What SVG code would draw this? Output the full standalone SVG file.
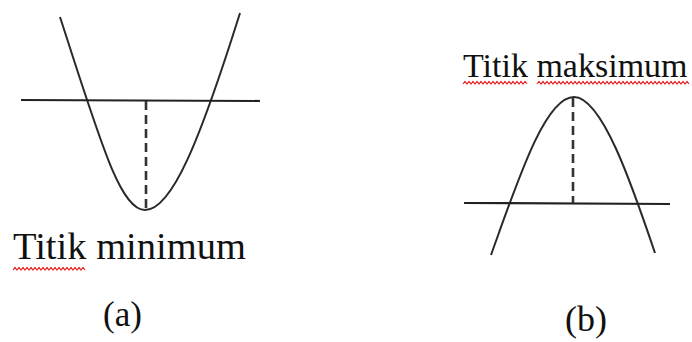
<svg xmlns="http://www.w3.org/2000/svg" width="692" height="342" viewBox="0 0 692 342">
<style>
.curve{fill:none;stroke:#2a2a2a;stroke-width:2}
.axis{fill:none;stroke:#222;stroke-width:2.2}
.dash{fill:none;stroke:#333;stroke-width:2.6;stroke-dasharray:9 5}
.lbl{font-family:'Liberation Serif','Tinos','Times New Roman','DejaVu Serif',serif;fill:#111}
.wave{fill:none;stroke:#e52020;stroke-width:1.2}
</style>
<rect width="692" height="342" fill="#fff"/>
<g id="graph-a">
<path class="curve" d="M60,17 C100,140 120,210 145,210 C172,210 200,140 240,13"/>
<line class="axis" x1="21" y1="100" x2="260" y2="101"/>
<line class="dash" x1="146" y1="101" x2="146" y2="210"/>
<text class="lbl" x="13" y="259" font-size="38.5">Titik minimum</text>
<path class="wave" d="M13,270 l2,-2.5 l2,2.5 l2,-2.5 l2,2.5 l2,-2.5 l2,2.5 l2,-2.5 l2,2.5 l2,-2.5 l2,2.5 l2,-2.5 l2,2.5 l2,-2.5 l2,2.5 l2,-2.5 l2,2.5 l2,-2.5 l2,2.5 l2,-2.5 l2,2.5 l2,-2.5 l2,2.5 l2,-2.5 l2,2.5 l2,-2.5 l2,2.5 l2,-2.5 l2,2.5 l2,-2.5 l2,2.5 l2,-2.5 l2,2.5 l2,-2.5 l2,2.5 l2,-2.5 l2,2.5"/>
<text class="lbl" x="103" y="326" font-size="35">(a)</text>
</g>
<g id="graph-b">
<path class="curve" d="M491,255 C518,180 545,97 574,97 C602,97 632,185 655,253"/>
<line class="axis" x1="464" y1="203" x2="670" y2="204"/>
<line class="dash" x1="573" y1="98" x2="573" y2="203"/>
<text class="lbl" x="463" y="77" font-size="34">Titik maksimum</text>
<path class="wave" d="M463,84 l2,-2.5 l2,2.5 l2,-2.5 l2,2.5 l2,-2.5 l2,2.5 l2,-2.5 l2,2.5 l2,-2.5 l2,2.5 l2,-2.5 l2,2.5 l2,-2.5 l2,2.5 l2,-2.5 l2,2.5 l2,-2.5 l2,2.5 l2,-2.5 l2,2.5 l2,-2.5 l2,2.5 l2,-2.5 l2,2.5 l2,-2.5 l2,2.5 l2,-2.5 l2,2.5 l2,-2.5 l2,2.5 l2,-2.5 l2,2.5"/>
<path class="wave" d="M537,84 l2,-2.5 l2,2.5 l2,-2.5 l2,2.5 l2,-2.5 l2,2.5 l2,-2.5 l2,2.5 l2,-2.5 l2,2.5 l2,-2.5 l2,2.5 l2,-2.5 l2,2.5 l2,-2.5 l2,2.5 l2,-2.5 l2,2.5 l2,-2.5 l2,2.5 l2,-2.5 l2,2.5 l2,-2.5 l2,2.5 l2,-2.5 l2,2.5 l2,-2.5 l2,2.5 l2,-2.5 l2,2.5 l2,-2.5 l2,2.5 l2,-2.5 l2,2.5 l2,-2.5 l2,2.5 l2,-2.5 l2,2.5 l2,-2.5 l2,2.5 l2,-2.5 l2,2.5 l2,-2.5 l2,2.5 l2,-2.5 l2,2.5 l2,-2.5 l2,2.5 l2,-2.5 l2,2.5 l2,-2.5 l2,2.5 l2,-2.5 l2,2.5 l2,-2.5 l2,2.5 l2,-2.5 l2,2.5 l2,-2.5 l2,2.5 l2,-2.5 l2,2.5 l2,-2.5 l2,2.5 l2,-2.5 l2,2.5 l2,-2.5 l2,2.5 l2,-2.5 l2,2.5 l2,-2.5 l2,2.5 l2,-2.5 l2,2.5 l2,-2.5 l2,2.5"/>
<text class="lbl" x="565" y="331" font-size="36">(b)</text>
</g>
</svg>
